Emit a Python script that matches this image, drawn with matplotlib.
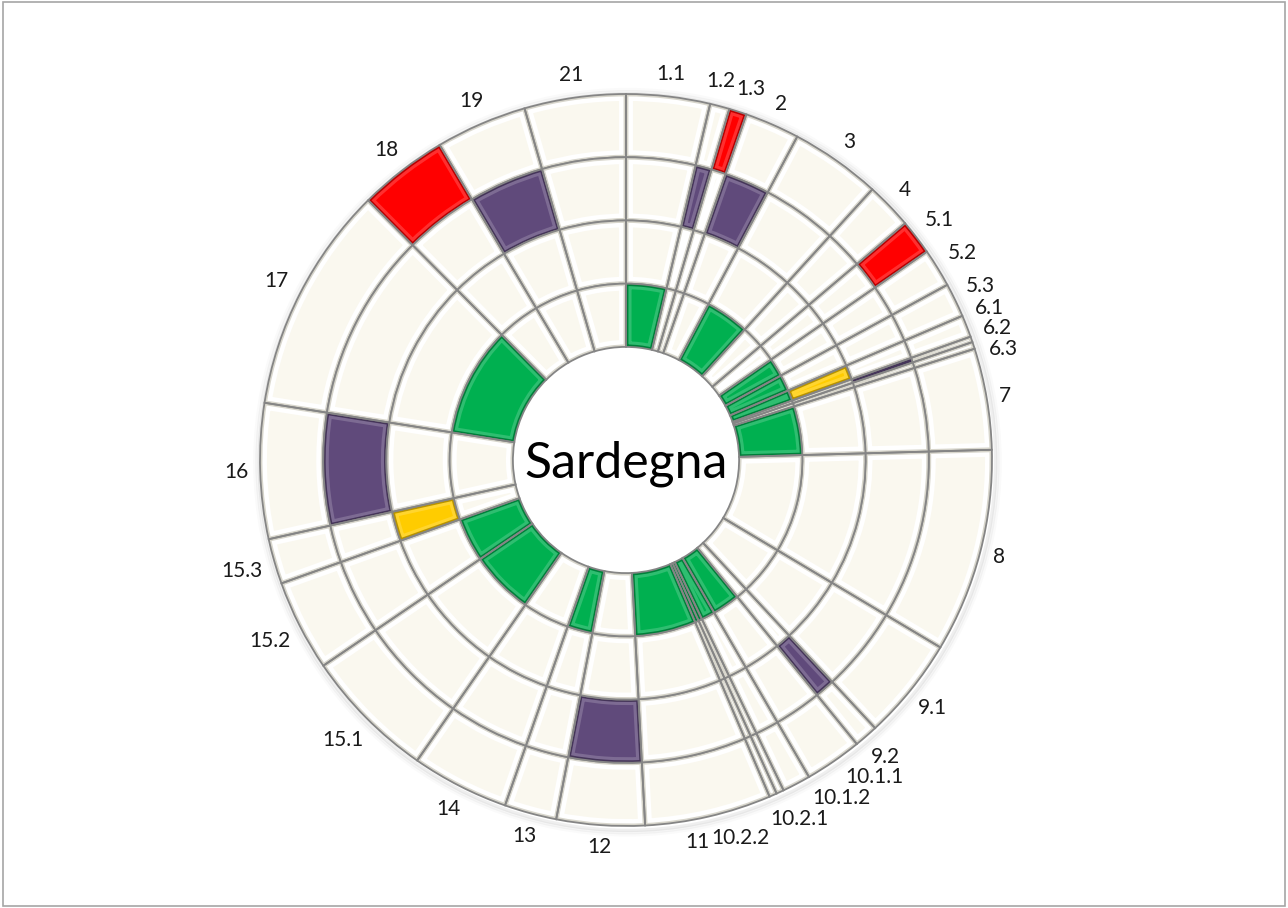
# Sardegna - multi ring doughnut
import numpy as np
import matplotlib.pyplot as plt
from matplotlib.patches import Wedge, Rectangle, Circle
from matplotlib.colors import to_rgb


# Data
categories = ['1.1', '1.2', '1.3', '2', '3', '4', '5.1', '5.2', '5.3', '6.1', '6.2', '6.3',
              '7', '8', '9.1', '9.2', '10.1.1', '10.1.2', '10.2.1', '10.2.2', '11', '12',
              '13', '14', '15.1', '15.2', '15.3', '16', '17', '18', '19', '21']
shares = [13.3, 3.1, 2.8, 8.7, 14.4, 7.4, 5.6, 6.1, 5.4, 3.5, 0.9, 1.1,
          16.1, 32.4, 16.3, 3.8, 9.1, 4.5, 1.2, 1.2, 20.1, 14.0,
          8.3, 15.5, 21.0, 14.5, 7.2, 21.5, 36.2, 14.2, 14.5, 16.1]

# highlighted categories of each ring, outermost ring first
ring1_red = ['1.3', '5.1', '18']
ring2_purple = ['1.2', '2', '6.2', '9.2', '12', '16', '19']
ring3_yellow = ['6.1', '15.3']
ring4_green = ['1.1', '3', '5.2', '5.3', '6.1', '7', '10.1.1', '10.1.2', '10.2.1',
               '10.2.2', '11', '13', '15.1', '15.2', '17']

title = 'Sardegna'

CREAM = '#FAF8EF'
rings = [(ring1_red, '#FF0000'), (ring2_purple, '#604A7B'),
         (ring3_yellow, '#FFCC00'), (ring4_green, '#00B050')]


def mix(c, other, t):
    a = np.array(to_rgb(c))
    b = np.array(to_rgb(other))
    return tuple(a * (1 - t) + b * t)


W, H = 1288, 908
R_PX = 366
CX, CY = 626, H - 460
HOLE = 0.309
RING_W = (1 - HOLE) / 4

fig = plt.figure(figsize=(W / 100, H / 100), dpi=100)
ax = fig.add_axes([0, 0, 1, 1])

# soft shadow round the outside
for k, a in enumerate([0.12, 0.07, 0.04]):
    ax.add_patch(Circle((0.004, -0.006), 1.0 + 0.006 * (k + 1), facecolor='none',
                        edgecolor='#808080', linewidth=2.5, alpha=a))

for k, (hl, col) in enumerate(rings):
    radius = 1 - k * RING_W
    cols = [col if c in hl else CREAM for c in categories]
    wedges, _ = ax.pie(shares, radius=radius, startangle=90, counterclock=False,
                       colors=cols,
                       wedgeprops=dict(width=RING_W, edgecolor='none', linewidth=0))
    for w, c in zip(wedges, cols):
        # bevel look: light band then darker rim, clipped inside the wedge
        if c == CREAM:
            bands = [('#ffffff', 10), ('#d8d6cc', 3.5)]
        else:
            bands = [(mix(c, 'white', 0.18), 8), (mix(c, 'black', 0.28), 3.5)]
        for ec, lw in bands:
            p = Wedge(w.center, w.r, w.theta1, w.theta2, width=w.width,
                      facecolor='none', edgecolor=ec, linewidth=lw)
            ax.add_patch(p)
            p.set_clip_path(w)
    for w in wedges:
        ax.add_patch(Wedge(w.center, w.r, w.theta1, w.theta2, width=w.width,
                           facecolor='none', edgecolor='#858585', linewidth=1.3))

ax.set_xlim(-CX / R_PX, (W - CX) / R_PX)
ax.set_ylim(-CY / R_PX, (H - CY) / R_PX)
ax.set_aspect('equal')
ax.axis('off')

ax.text(0, -0.01, title, fontsize=36, family='Lato', ha='center', va='center',
        color='#000000')

# labels round the outside
total = float(sum(shares))
start = np.cumsum([0.0] + shares[:-1])
mids = list((start + np.array(shares) / 2) / total * 360.0)

fig.canvas.draw()
renderer = fig.canvas.get_renderer()
texts = []
sizes = []
for c in categories:
    t = ax.text(0, 0, c, fontsize=15, family='Lato', ha='center', va='center',
                color='#1a1a1a')
    bb = t.get_window_extent(renderer)
    texts.append(t)
    sizes.append((bb.width / R_PX, bb.height / R_PX))

R0 = 1.03


def place(i, ang):
    hw, hh = sizes[i][0] / 2, sizes[i][1] / 2
    th = np.radians(ang)
    s, c = np.sin(th), np.cos(th)
    r = R0 + hw * abs(s) + hh * abs(c)
    return r * s, r * c


def overlap(i, j, pad=0.5 / R_PX):
    xi, yi = place(i, mids[i])
    xj, yj = place(j, mids[j])
    return (abs(xi - xj) < (sizes[i][0] + sizes[j][0]) / 2 + pad and
            abs(yi - yj) < (sizes[i][1] + sizes[j][1]) / 2 + pad)


n = len(categories)
for it in range(2000):
    moved = False
    for i in range(n):
        j = (i + 1) % n
        if overlap(i, j):
            mids[i] -= 0.1
            mids[j] += 0.1
            moved = True
    if not moved:
        break

for i, t in enumerate(texts):
    t.set_position(place(i, mids[i]))

fig.add_artist(Rectangle((0.002, 0.002), 0.996, 0.996, transform=fig.transFigure,
                         facecolor='none', edgecolor='#a6a6a6', linewidth=1.2))

fig.savefig('out.png', dpi=100)
